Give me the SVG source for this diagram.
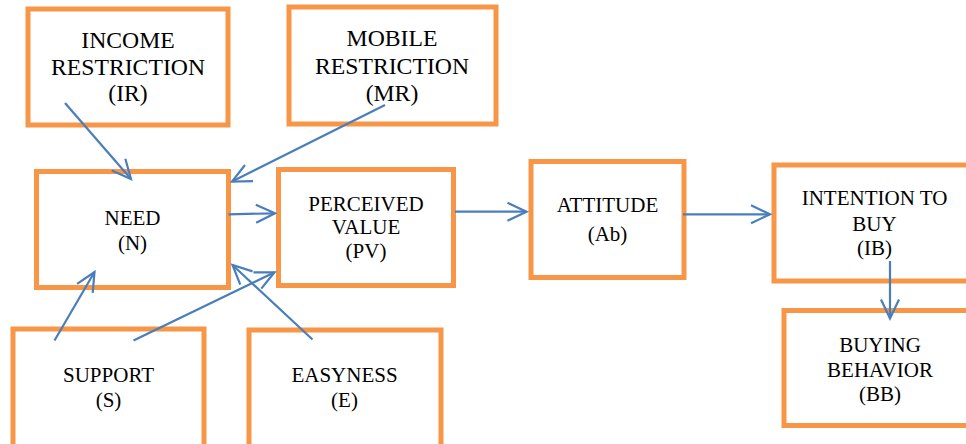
<svg xmlns="http://www.w3.org/2000/svg" width="966" height="444" viewBox="0 0 966 444">
<defs>
<style>
.box{fill:#fff;stroke:#F79646;stroke-width:5}
.t{font-family:"Liberation Serif","Times New Roman",serif;font-size:21px;fill:#000;text-anchor:middle}
.t2{font-size:23.7px}
.c{fill:none;stroke:#4A7EBB;stroke-width:2.2}
</style>
<marker id="ah" markerUnits="userSpaceOnUse" markerWidth="26" markerHeight="26" viewBox="-22 -13 26 26" refX="0" refY="0" orient="auto">
<path d="M-19,-9 L0,0 L-19,9" fill="none" stroke="#4A7EBB" stroke-width="2.2"/>
</marker>
</defs>
<rect width="966" height="444" fill="#fff"/>
<g id="IR"><rect class="box" x="28" y="9" width="200" height="116"/>
<text class="t t2" x="128" y="48">INCOME</text><text class="t t2" x="128" y="75">RESTRICTION</text><text class="t t2" x="128" y="101">(IR)</text></g>
<g id="MR"><rect class="box" x="289" y="7" width="207" height="117"/>
<text class="t t2" x="392" y="46">MOBILE</text><text class="t t2" x="392" y="74">RESTRICTION</text><text class="t t2" x="392" y="101">(MR)</text></g>
<g id="N"><rect class="box" x="36.5" y="171.5" width="192" height="116"/>
<text class="t" x="132.5" y="225">NEED</text><text class="t" x="132.5" y="250">(N)</text></g>
<g id="PV"><rect class="box" x="278.5" y="169.5" width="175" height="116"/>
<text class="t" x="366" y="211">PERCEIVED</text><text class="t" x="366" y="234">VALUE</text><text class="t" x="366" y="258">(PV)</text></g>
<g id="Ab"><rect class="box" x="531" y="161.5" width="153" height="116"/>
<text class="t" x="607.5" y="211.5">ATTITUDE</text><text class="t" x="607.5" y="240.5">(Ab)</text></g>
<g id="IB"><rect class="box" x="774" y="165" width="210" height="116"/>
<text class="t" x="874.5" y="205">INTENTION TO</text><text class="t" x="874.5" y="230.5">BUY</text><text class="t" x="874.5" y="255">(IB)</text></g>
<g id="BB"><rect class="box" x="784" y="310.5" width="200" height="115"/>
<text class="t" x="880" y="351.5">BUYING</text><text class="t" x="880" y="376.5">BEHAVIOR</text><text class="t" x="880" y="400.5">(BB)</text></g>
<g id="S"><rect class="box" x="13" y="329" width="191" height="130"/>
<text class="t" x="108.5" y="381.5">SUPPORT</text><text class="t" x="108.5" y="407">(S)</text></g>
<g id="E"><rect class="box" x="249" y="330" width="192" height="130"/>
<text class="t" x="344.5" y="381.5">EASYNESS</text><text class="t" x="344.5" y="407">(E)</text></g>
<g id="connectors">
<line class="c" x1="65" y1="103" x2="131" y2="179" marker-end="url(#ah)"/>
<line class="c" x1="385" y1="105" x2="232" y2="181.5" marker-end="url(#ah)"/>
<line class="c" x1="228.5" y1="214.3" x2="275" y2="213.3" marker-end="url(#ah)"/>
<line class="c" x1="54.5" y1="340.5" x2="94.5" y2="272" marker-end="url(#ah)"/>
<line class="c" x1="133.5" y1="340.5" x2="274.5" y2="272.3" marker-end="url(#ah)"/>
<line class="c" x1="312.5" y1="339.5" x2="232.5" y2="265" marker-end="url(#ah)"/>
<line class="c" x1="455" y1="211.7" x2="526.5" y2="211.7" marker-end="url(#ah)"/>
<line class="c" x1="683" y1="214.3" x2="770" y2="214.3" marker-end="url(#ah)"/>
<line class="c" x1="890" y1="261" x2="890" y2="318.5" marker-end="url(#ah)"/>
</g>
</svg>
